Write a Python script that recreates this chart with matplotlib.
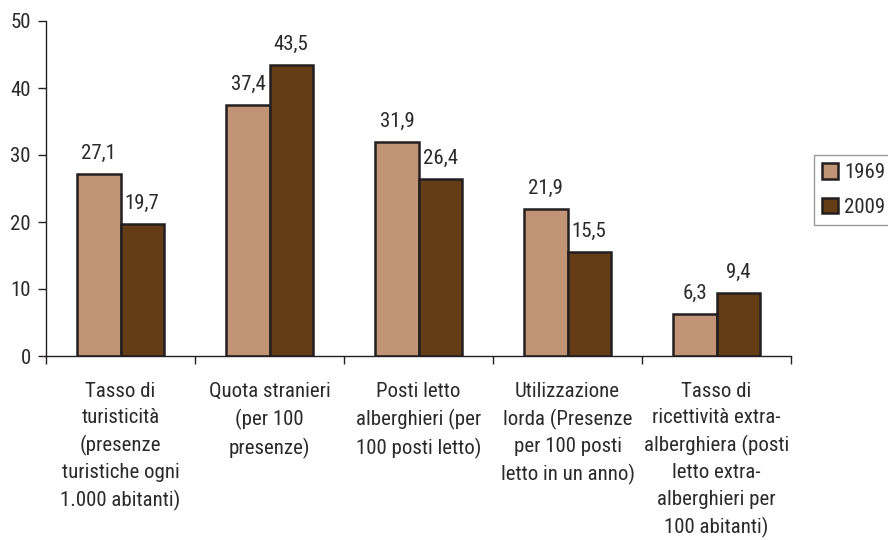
import matplotlib
matplotlib.use("Agg")
import matplotlib.pyplot as plt
import numpy as np
from matplotlib import font_manager

# pick a condensed sans if one is installed
cand = None
prefs = ["Liberation Sans Narrow", "Roboto Condensed", "Noto Sans", "Open Sans", "Roboto", "Inter", "Lato"]
entries = font_manager.fontManager.ttflist
def is_cond(f):
    st = str(f.stretch).lower()
    fn = f.fname.lower()
    return ("condensed" in st and "semi" not in st and "extra" not in st and "ultra" not in st) or \
           ("narrow" in fn) or ("condensed" in fn and "semi" not in fn and "extra" not in fn)
for p in prefs:
    for f in entries:
        if f.name == p and is_cond(f) and f.style == "normal" and f.weight in (400, "normal", "regular"):
            cand = f
            break
    if cand:
        break

if cand is not None:
    plt.rcParams['font.family'] = [cand.name, 'DejaVu Sans']
    plt.rcParams['font.stretch'] = cand.stretch
    fs = 15
else:
    plt.rcParams['font.family'] = ['Liberation Sans', 'DejaVu Sans']
    fs = 13

categories = [
    "Tasso di\nturisticità\n(presenze\nturistiche ogni\n1.000 abitanti)",
    "Quota stranieri\n(per 100\npresenze)",
    "Posti letto\nalberghieri (per\n100 posti letto)",
    "Utilizzazione\nlorda (Presenze\nper 100 posti\nletto in un anno)",
    "Tasso di\nricettività extra-\nalberghiera (posti\nletto extra-\nalberghieri per\n100 abitanti)",
]
series_names = ["1969", "2009"]
v1969 = [27.1, 37.4, 31.9, 21.9, 6.3]
v2009 = [19.7, 43.5, 26.4, 15.5, 9.4]
yticks = [0, 10, 20, 30, 40, 50]

col1 = "#C09474"
col2 = "#643D17"
edge = "#231F20"
txt = "#2A2A2A"

fig = plt.figure(figsize=(8.88, 5.4), dpi=100)
ax = fig.add_axes([46/888, 1-356/540, (791-46)/888, (356-21)/540])

x = np.arange(len(categories))
w = 0.29
b1 = ax.bar(x - w/2, v1969, w, color=col1, edgecolor=edge, linewidth=1.8, label=series_names[0])
b2 = ax.bar(x + w/2, v2009, w, color=col2, edgecolor=edge, linewidth=1.8, label=series_names[1])

def fmt(v):
    return f"{v:.1f}".replace(".", ",")

for bars, vals in ((b1, v1969), (b2, v2009)):
    for r, v in zip(bars, vals):
        ax.annotate(fmt(v), (r.get_x() + r.get_width()/2, v), xytext=(0, 8),
                    textcoords="offset points", ha="center", va="bottom",
                    fontsize=fs, color=txt)

ax.set_xlim(-0.5, len(categories) - 0.5)
ax.set_ylim(0, 50)
ax.set_yticks(yticks)
ax.set_yticklabels([str(t) for t in yticks], fontsize=fs, color=txt)
ax.set_xticks(np.arange(len(categories) + 1) - 0.5)
ax.set_xticklabels([])
ax.tick_params(axis='y', direction='out', length=6, width=1, color=edge, pad=5)
ax.tick_params(axis='x', direction='out', length=6, width=1, color=edge)
for i, c in enumerate(categories):
    ax.text(i, -3.9, c, ha="center", va="top", fontsize=fs, color=txt,
            linespacing=1.48, transform=ax.transData)

for s in ("top", "right"):
    ax.spines[s].set_visible(False)
for s in ("left", "bottom"):
    ax.spines[s].set_color(edge)
    ax.spines[s].set_linewidth(1)

leg = ax.legend(loc="upper left", bbox_to_anchor=(814/888, 1-155/540), bbox_transform=fig.transFigure,
                frameon=True, fancybox=False, fontsize=fs, handlelength=0.75, handleheight=0.75,
                handletextpad=0.3, borderpad=0.4, labelspacing=0.75, borderaxespad=0)
leg.get_frame().set_edgecolor("#808080")
leg.get_frame().set_linewidth(1)
for t in leg.get_texts():
    t.set_color(txt)

fig.savefig("out.png", dpi=100)
